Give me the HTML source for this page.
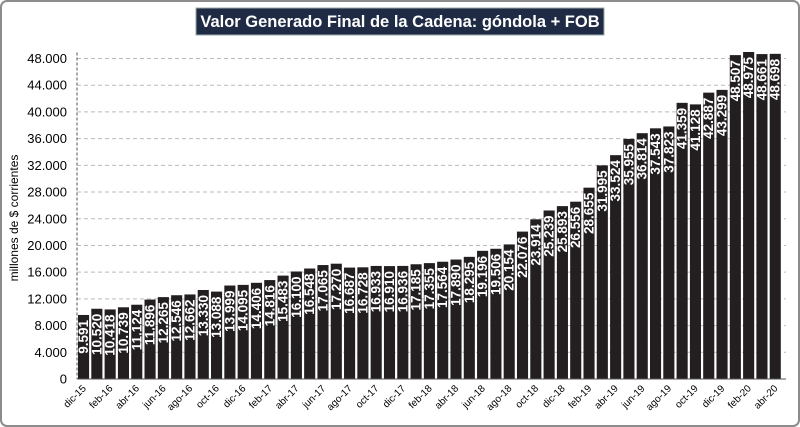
<!DOCTYPE html>
<html><head><meta charset="utf-8"><style>
body{margin:0;background:#fff;}
#c{position:relative;width:800px;height:427px;overflow:hidden;font-family:"Liberation Sans",sans-serif;}
</style></head><body>
<div id="c">
<svg id="s" width="800" height="427">
<rect x="1" y="1" width="798" height="425" rx="6" fill="#fff" stroke="#8c8c8c" stroke-width="2"/>
<rect x="196" y="8" width="408" height="27" fill="#1f2b45" stroke="#9aa"/>
<text x="400" y="27" text-anchor="middle" fill="#fff" font-size="16.5" font-weight="bold">Valor Generado Final de la Cadena: góndola + FOB</text>
<text transform="translate(18,218) rotate(-90)" text-anchor="middle" font-size="12" fill="#000">millones de $ corrientes</text>
<g id="grid"></g><g id="bars"></g><g id="axes"></g>
</svg>
</div>
<script>
const values=[9591,10520,10418,10739,11124,11896,12265,12546,12662,13330,13088,13999,14095,14406,14816,15483,16100,16548,17065,17270,16687,16728,16933,16910,16936,17185,17355,17564,17890,18295,19196,19506,20154,22076,23914,25239,25893,26556,28655,31995,33524,35955,36814,37543,37823,41359,41128,42887,43299,48507,48975,48661,48698];
const months=["ene","feb","mar","abr","may","jun","jul","ago","sep","oct","nov","dic"];
const yTicks=[0,4000,8000,12000,16000,20000,24000,28000,32000,36000,40000,44000,48000];
const x0=77,x1=782,yZero=379,yTop=58.5,yMax=48000;
const slot=(x1-x0)/values.length;
const y=v=>yZero-(v/yMax)*(yZero-yTop);
const fmt=v=>v===0?"0":Math.floor(v/1000)+"."+String(v%1000).padStart(3,"0");
const NS="http://www.w3.org/2000/svg";
function mk(t,a,p){const e=document.createElementNS(NS,t);for(const k in a)e.setAttribute(k,a[k]);p.appendChild(e);return e;}
const grid=document.getElementById('grid'),bars=document.getElementById('bars'),axes=document.getElementById('axes');
yTicks.forEach(v=>{
  if(v>0){const l=mk('line',{x1:x0,x2:x1+4,y1:y(v),y2:y(v),stroke:'#bbb','stroke-dasharray':'4,3'},grid);
  
  }
  const t=mk('text',{x:x0-10,y:y(v)+4.5,'text-anchor':'end','font-size':'13',fill:'#000'},axes);
  t.textContent=fmt(v);
  
  
});
values.forEach((v,i)=>{
  const bx=x0+i*slot+1;
  const r=mk('rect',{x:bx,y:y(v),width:slot-2.2,height:yZero-y(v),fill:'#231f20'},bars);
  
  
  const cx=bx+(slot-2.2)/2+4.5;
  const t=mk('text',{transform:`translate(${cx},${y(v)+5}) rotate(-90)`,'text-anchor':'end','font-size':'13.5','font-weight':'bold',fill:'#fff'},bars);
  t.textContent=fmt(v);
  
  
  if(i%2===0){
    const m=(11+i)%12, yr=15+Math.floor((11+i)/12);
    const lx=x0+i*slot+slot/2+3;
    const xl=mk('text',{transform:`translate(${lx},${yZero+10}) rotate(-45)`,'text-anchor':'end','font-size':'10',fill:'#000'},axes);
    xl.textContent=months[m]+"-"+yr;
    
    
  }
});
const ax=mk('line',{x1:x0,x2:x0,y1:yTop-6,y2:yZero,stroke:'#555','stroke-dasharray':'3,2'},axes);


const bx2=mk('line',{x1:x0,x2:x1+4,y1:yZero,y2:yZero,stroke:'#555'},axes);


</script>
</body></html>
